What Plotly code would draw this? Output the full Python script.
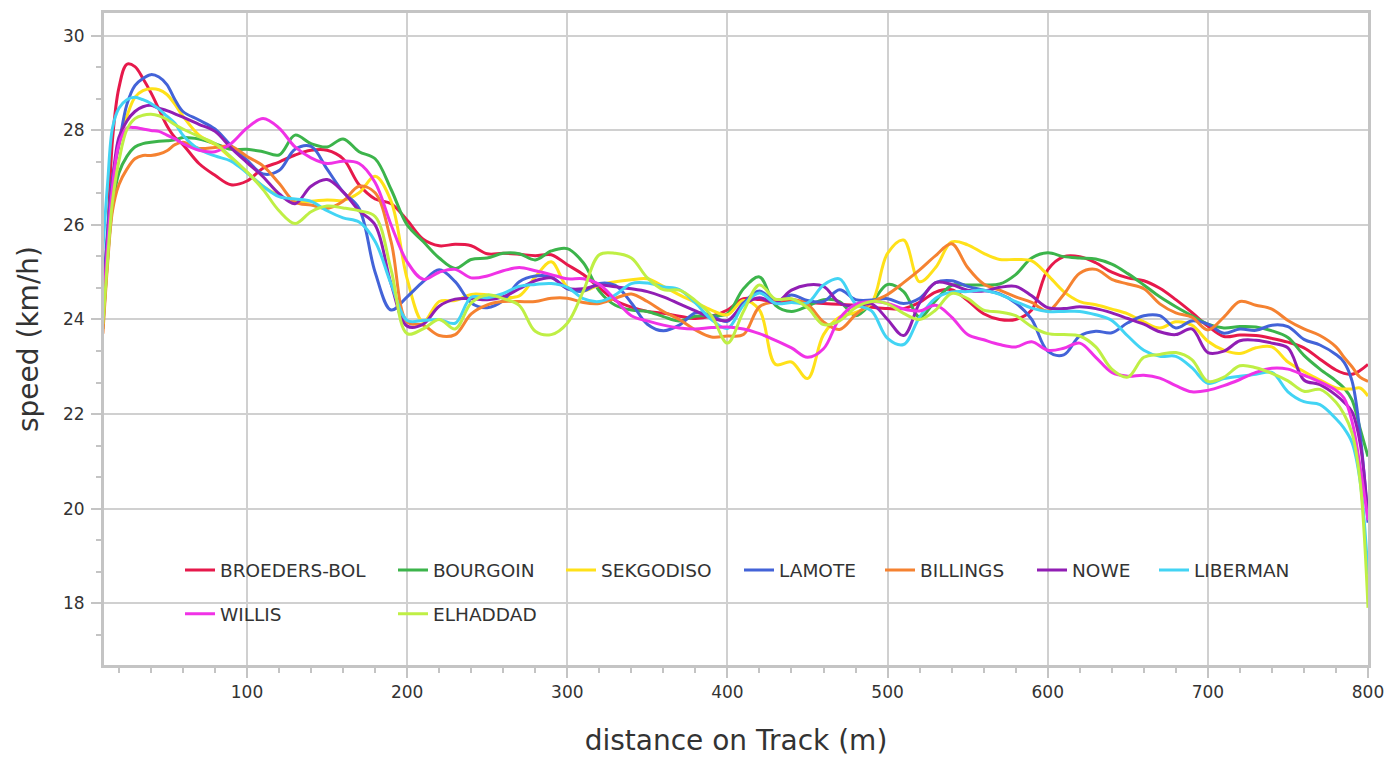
import plotly.graph_objects as go

DIST = [10, 13, 16, 20, 25, 30, 35, 40, 45, 50, 55, 60] + list(range(70, 790, 10)) + [785, 790, 795, 800]
DIST = sorted(DIST)

NAMES = ["BROEDERS-BOL", "BOURGOIN", "SEKGODISO", "LAMOTE", "BILLINGS", "NOWE", "LIBERMAN", "WILLIS", "ELHADDAD"]
COLORS = ["#e6194b", "#3cb44b", "#ffe119", "#4363d8", "#f58231", "#911eb4", "#42d4f4", "#f032e6", "#bfef45"]

BROEDERS_BOL = [24.0, 25.8, 27.8, 28.9, 29.4, 29.35, 29.1, 28.8, 28.45, 28.1, 27.85, 27.7,
    27.3, 27.05, 26.85, 26.93, 27.2, 27.33, 27.48, 27.58, 27.58, 27.4, 26.85, 26.55, 26.45, 26.1,
    25.7, 25.56, 25.59, 25.56, 25.39, 25.4, 25.38, 25.35, 25.37, 25.16,
    24.95, 24.67, 24.4, 24.26, 24.17, 24.13, 24.07, 24.02, 24.07, 24.2,
    24.44, 24.42, 24.38, 24.38, 24.36, 24.34, 24.32, 24.3, 24.26, 24.23,
    24.23, 24.36, 24.58, 24.63, 24.4, 24.12, 24.0, 24.0, 24.2, 25.05,
    25.33, 25.33, 25.2, 25.0, 24.88, 24.82, 24.66, 24.42, 24.15, 23.86,
    23.64, 23.67, 23.66, 23.6, 23.52, 23.4, 23.16, 22.93, 22.86, 22.84, 22.92, 23.05]

BOURGOIN = [23.8, 25.3, 26.4, 27.1, 27.45, 27.65, 27.72, 27.75, 27.77, 27.78, 27.8, 27.85,
    27.82, 27.72, 27.6, 27.6, 27.55, 27.48, 27.9, 27.72, 27.65, 27.82, 27.55, 27.4, 26.75, 26.0,
    25.65, 25.3, 25.08, 25.27, 25.3, 25.4, 25.39, 25.26, 25.45, 25.5,
    25.2, 24.6, 24.3, 24.2, 24.17, 24.06, 23.97, 24.07, 24.08, 24.12,
    24.65, 24.9, 24.3, 24.17, 24.28, 24.42, 24.38, 24.08, 24.35, 24.74,
    24.59, 24.05, 24.4, 24.72, 24.73, 24.73, 24.75, 24.95, 25.3, 25.41,
    25.33, 25.3, 25.28, 25.17, 24.97, 24.73, 24.48, 24.27, 24.08, 23.9,
    23.82, 23.85, 23.84, 23.76, 23.62, 23.24, 22.95, 22.7, 22.55, 22.3, 21.7, 21.1]

SEKGODISO = [24.5, 25.8, 26.9, 27.7, 28.3, 28.7, 28.84, 28.88, 28.86, 28.76, 28.55, 28.3,
    27.9, 27.7, 27.42, 27.12, 26.82, 26.62, 26.5, 26.5, 26.53, 26.52, 26.68, 27.03, 26.5, 24.86,
    23.95, 24.38, 24.4, 24.53, 24.52, 24.47, 24.5, 24.9, 25.22, 24.69,
    24.6, 24.73, 24.8, 24.84, 24.86, 24.7, 24.52, 24.36, 24.2, 24.1,
    24.4, 24.2, 23.05, 23.1, 22.75, 23.68, 24.05, 24.15, 24.35, 25.4,
    25.68, 24.8, 25.1, 25.64, 25.58, 25.4, 25.27, 25.27, 25.24, 24.94,
    24.59, 24.38, 24.31, 24.22, 24.12, 23.95, 23.82, 23.95, 23.88, 23.54,
    23.35, 23.28, 23.4, 23.42, 23.1, 22.9, 22.72, 22.55, 22.53, 22.53, 22.55, 22.38]

LAMOTE = [24.5, 25.9, 27.0, 27.7, 28.55, 28.95, 29.1, 29.18, 29.13, 28.97, 28.65, 28.4,
    28.22, 28.03, 27.68, 27.37, 27.08, 27.15, 27.6, 27.66, 27.18, 26.7, 26.35, 25.0, 24.2, 24.48,
    24.8, 25.05, 24.8, 24.35, 24.25, 24.4, 24.8, 24.92, 24.9, 24.65,
    24.6, 24.76, 24.72, 24.35, 23.9, 23.76, 23.88, 24.14, 24.08, 23.96,
    24.35, 24.6, 24.38, 24.52, 24.4, 24.38, 24.63, 24.42, 24.41, 24.44,
    24.34, 24.45, 24.78, 24.82, 24.7, 24.62, 24.54, 24.35, 24.0, 23.33,
    23.25, 23.65, 23.75, 23.72, 23.93, 24.08, 24.08, 23.82, 23.97, 23.9,
    23.71, 23.8, 23.77, 23.88, 23.85, 23.58, 23.46, 23.26, 23.1, 22.7, 21.6, 19.7]

BILLINGS = [23.7, 25.2, 26.3, 26.85, 27.18, 27.4, 27.47, 27.47, 27.5, 27.57, 27.7, 27.75,
    27.62, 27.64, 27.66, 27.45, 27.25, 26.88, 26.48, 26.42, 26.35, 26.5, 26.82, 26.68, 25.64, 23.95,
    23.88, 23.66, 23.68, 24.12, 24.31, 24.38, 24.38, 24.38, 24.45, 24.45,
    24.36, 24.34, 24.45, 24.54, 24.38, 24.17, 24.0, 23.78, 23.63, 23.65,
    23.68, 24.27, 24.38, 24.43, 24.32, 23.95, 23.79, 24.1, 24.36, 24.53,
    24.78, 25.05, 25.35, 25.6, 25.1, 24.75, 24.62, 24.48, 24.36, 24.18,
    24.53, 24.98, 25.06, 24.85, 24.75, 24.65, 24.33, 24.14, 24.05, 23.78,
    24.05, 24.38, 24.3, 24.22, 23.98, 23.8, 23.66, 23.42, 23.2, 23.0, 22.78, 22.69]

NOWE = [24.2, 25.7, 26.9, 27.85, 28.2, 28.4, 28.5, 28.53, 28.47, 28.42, 28.35, 28.28,
    28.13, 27.98, 27.63, 27.32, 27.02, 26.66, 26.45, 26.82, 26.96, 26.7, 26.3, 26.0, 24.75, 23.86,
    23.9, 24.28, 24.43, 24.44, 24.42, 24.48, 24.65, 24.82, 24.88, 24.66,
    24.65, 24.73, 24.69, 24.65, 24.59, 24.48, 24.33, 24.18, 24.03, 23.98,
    24.31, 24.46, 24.35, 24.62, 24.73, 24.7, 24.35, 24.28, 24.33, 24.0,
    23.66, 24.35, 24.78, 24.74, 24.62, 24.6, 24.68, 24.7, 24.5, 24.25,
    24.23, 24.27, 24.23, 24.14, 24.02, 23.9, 23.74, 23.68, 23.8, 23.3,
    23.33, 23.55, 23.56, 23.5, 23.4, 22.72, 22.62, 22.4, 22.25, 22.05, 21.4, 19.8]

LIBERMAN = [25.5, 26.9, 28.05, 28.47, 28.65, 28.7, 28.65, 28.57, 28.45, 28.3, 28.15, 27.9,
    27.6, 27.46, 27.35, 27.1, 26.82, 26.6, 26.55, 26.5, 26.3, 26.15, 26.06, 25.65, 24.75, 23.98,
    23.98, 24.0, 23.92, 24.47, 24.46, 24.55, 24.7, 24.74, 24.76, 24.68,
    24.44, 24.38, 24.52, 24.76, 24.77, 24.69, 24.63, 24.35, 24.0, 23.81,
    24.3, 24.56, 24.34, 24.36, 24.35, 24.73, 24.86, 24.33, 24.18, 23.6,
    23.47, 24.05, 24.45, 24.58, 24.59, 24.62, 24.53, 24.38, 24.24, 24.17,
    24.17, 24.17, 24.1, 23.98, 23.65, 23.35, 23.22, 23.22, 22.98, 22.65,
    22.75, 22.8, 22.84, 22.88, 22.47, 22.26, 22.2, 21.9, 21.7, 21.4, 20.6, 18.6]

WILLIS = [24.0, 25.6, 26.8, 27.7, 28.05, 28.06, 28.03, 28.0, 27.98, 27.9, 27.82, 27.72,
    27.58, 27.55, 27.72, 28.05, 28.25, 28.05, 27.65, 27.42, 27.3, 27.35, 27.3, 26.9, 26.0, 25.22,
    24.85, 25.0, 25.06, 24.88, 24.92, 25.03, 25.1, 25.03, 24.95, 24.86,
    24.86, 24.74, 24.42, 24.08, 23.97, 23.88, 23.82, 23.8, 23.83, 23.84,
    23.8, 23.7, 23.56, 23.4, 23.2, 23.38, 24.02, 24.32, 24.38, 24.34,
    24.22, 24.18, 24.3, 24.05, 23.68, 23.57, 23.47, 23.42, 23.53, 23.35,
    23.39, 23.5, 23.2, 22.88, 22.8, 22.82, 22.76, 22.6, 22.47, 22.5,
    22.6, 22.73, 22.88, 22.97, 22.95, 22.82, 22.68, 22.5, 22.34, 21.85, 20.9, 19.75]

ELHADDAD = [23.9, 25.3, 26.5, 27.35, 28.02, 28.25, 28.32, 28.34, 28.31, 28.23, 28.12, 28.03,
    27.87, 27.72, 27.44, 27.12, 26.75, 26.3, 26.03, 26.28, 26.4, 26.36, 26.3, 26.18, 25.05, 23.7,
    23.8, 24.0, 23.8, 24.35, 24.52, 24.44, 24.3, 23.75, 23.68, 23.92,
    24.6, 25.37, 25.4, 25.3, 24.88, 24.63, 24.62, 24.4, 24.08, 23.5,
    24.17, 24.73, 24.43, 24.44, 24.25, 23.89, 23.97, 24.25, 24.38, 24.33,
    24.13, 24.0, 24.2, 24.55, 24.44, 24.2, 24.16, 24.08, 23.85, 23.7,
    23.68, 23.65, 23.42, 22.95, 22.78, 23.2, 23.26, 23.3, 23.15, 22.69,
    22.78, 23.02, 22.98, 22.86, 22.7, 22.48, 22.52, 22.25, 22.0, 21.6, 20.6, 17.9]

SERIES = [BROEDERS_BOL, BOURGOIN, SEKGODISO, LAMOTE, BILLINGS, NOWE, LIBERMAN, WILLIS, ELHADDAD]

X_TICKS = [100, 200, 300, 400, 500, 600, 700, 800]
Y_TICKS = [18, 20, 22, 24, 26, 28, 30]

FONT = "DejaVu Sans, Verdana, sans-serif"
TXT = "#333333"
GRID = "#d0d0d0"
AXIS = "#c4c4c4"

# page has an 8px body margin: figure is sized so the plot area lands on the reference pixels
OFF = 8
FIG_W, FIG_H = 1393 - OFF, 763 - OFF
PLOT_L, PLOT_R, PLOT_T, PLOT_B = 104, 1368, 10, 665  # screen pixels

LEG_X = [180, 393, 561, 739, 880, 1032, 1154, 180, 393]
LEG_Y = [570, 570, 570, 570, 570, 570, 570, 614, 614]


def px_x(p):
    return (p - PLOT_L) / (PLOT_R - PLOT_L)


def px_y(p):
    return (PLOT_B - p) / (PLOT_B - PLOT_T)


fig = go.Figure()
layout_legends = {}
for i, (name, col, vals) in enumerate(zip(NAMES, COLORS, SERIES)):
    assert len(vals) == len(DIST), (name, len(vals), len(DIST))
    lid = "legend" if i == 0 else f"legend{i+1}"
    fig.add_trace(go.Scatter(
        x=DIST, y=vals, mode="lines", name=name,
        line=dict(color=col, width=3, shape="spline", smoothing=1.0),
        legend=lid,
    ))
    layout_legends[lid] = dict(
        x=px_x(LEG_X[i]), y=px_y(LEG_Y[i]),
        xanchor="left", yanchor="middle",
        orientation="v", bgcolor="rgba(0,0,0,0)", borderwidth=0,
        font=dict(family=FONT, size=18.5, color=TXT),
        itemclick=False, itemdoubleclick=False,
    )

fig.add_shape(type="rect", xref="paper", yref="paper",
              x0=px_x(113), x1=px_x(1320), y0=px_y(655), y1=px_y(530),
              fillcolor="rgba(255,255,255,0.82)", line=dict(width=0), layer="between")

fig.update_layout(
    width=FIG_W, height=FIG_H,
    margin=dict(l=PLOT_L - OFF, r=FIG_W - (PLOT_R - OFF), t=PLOT_T - OFF, b=FIG_H - (PLOT_B - OFF)),
    paper_bgcolor="white", plot_bgcolor="white",
    font=dict(family=FONT, color=TXT),
    showlegend=True,
    **layout_legends,
)

fig.update_xaxes(
    range=[10.7, 800], tickvals=X_TICKS, ticktext=[str(v) for v in X_TICKS],
    showgrid=True, gridcolor=GRID, gridwidth=2,
    showline=True, linecolor=AXIS, linewidth=3, mirror=True,
    ticks="outside", ticklen=10, tickwidth=2, tickcolor=AXIS,
    minor=dict(dtick=20, tick0=0, ticks="outside", ticklen=5, tickwidth=2, tickcolor=AXIS, showgrid=False),
    tickfont=dict(family=FONT, size=17, color=TXT),
    title=dict(text="distance on Track (m)", font=dict(family=FONT, size=28, color=TXT), standoff=29),
    zeroline=False,
)
fig.update_yaxes(
    range=[16.69, 30.484], tickvals=Y_TICKS, ticktext=[str(v) for v in Y_TICKS],
    showgrid=True, gridcolor=GRID, gridwidth=2,
    showline=True, linecolor=AXIS, linewidth=3, mirror=True,
    ticks="outside", ticklen=10, tickwidth=2, tickcolor=AXIS,
    minor=dict(dtick=2/3, tick0=0, ticks="outside", ticklen=5, tickwidth=2, tickcolor=AXIS, showgrid=False),
    tickfont=dict(family=FONT, size=17, color=TXT),
    ticklabelstandoff=3,
    title=dict(text="speed (km/h)", font=dict(family=FONT, size=28, color=TXT), standoff=17),
    zeroline=False,
)

fig.write_html("out.html")
